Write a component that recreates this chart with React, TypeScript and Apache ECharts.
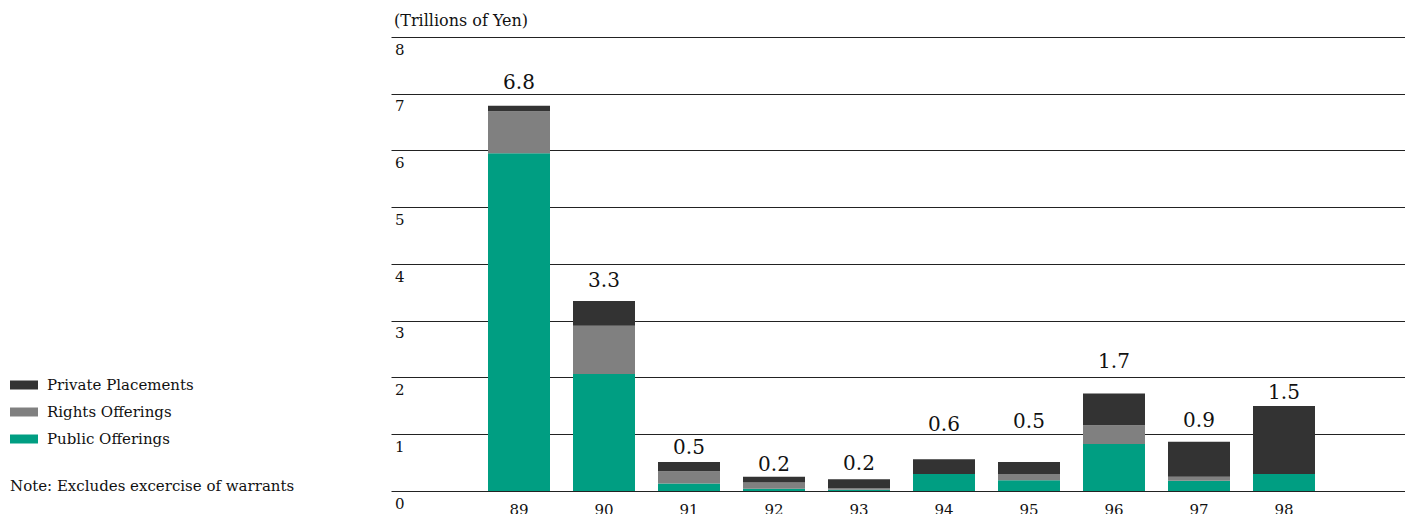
import React, { useEffect, useRef } from "react";
import * as echarts from "echarts";

const years = ["89", "90", "91", "92", "93", "94", "95", "96", "97", "98"];
const publicOfferings = [5.95, 2.06, 0.13, 0.04, 0.02, 0.3, 0.19, 0.83, 0.18, 0.3];
const rightsOfferings = [0.74, 0.85, 0.22, 0.11, 0.035, 0, 0.11, 0.33, 0.07, 0];
const privatePlacements = [0.1, 0.44, 0.16, 0.1, 0.15, 0.26, 0.21, 0.56, 0.62, 1.2];
const totals = ["6.8", "3.3", "0.5", "0.2", "0.2", "0.6", "0.5", "1.7", "0.9", "1.5"];

// pixel lift of each total label above its bar (layout only)
const labelLift = [24, 20.5, 15, 13, 16, 35.5, 41, 32, 21.5, 13.5];

const FONT = "'DejaVu Serif', serif";
const GREEN = "#009e82";
const GRAY = "#808080";
const DARK = "#333333";

const pad = <T,>(arr: T[]): (T | null)[] => [null, ...arr, null];

export default function App() {
  const ref = useRef<HTMLDivElement>(null);
  useEffect(() => {
    if (!ref.current) return;
    const chart = echarts.init(ref.current, null, { renderer: "svg" });
    const privateData = pad(privatePlacements).map((v, i) =>
      v === null
        ? null
        : {
            value: v,
            label: { offset: [0, -labelLift[i - 1]] },
          }
    );
    chart.setOption({
      animation: false,
      textStyle: { fontFamily: FONT },
      title: {
        text: "(Trillions of Yen)",
        left: 394,
        top: 12,
        padding: 0,
        textStyle: { fontFamily: FONT, fontSize: 16, fontWeight: "normal", color: "#111" },
      },
      legend: {
        orient: "vertical",
        left: 10,
        top: 376,
        padding: 0,
        itemWidth: 28,
        itemHeight: 9,
        itemGap: 9,
        icon: "rect",
        data: ["Private Placements", "Rights Offerings", "Public Offerings"],
        textStyle: { fontFamily: FONT, fontSize: 15, color: "#111", lineHeight: 18, padding: [0, 0, 0, 4] },
        selectedMode: false,
      },
      graphic: [
        {
          type: "text",
          left: 10,
          top: 478,
          style: { text: "Note: Excludes excercise of warrants", font: `15px ${FONT}`, fill: "#111" },
        },
      ],
      grid: {
        left: 391.5,
        width: 1020,
        top: 37,
        bottom: 23,
        containLabel: false,
        outerBoundsMode: "none",
      },
      xAxis: {
        type: "category",
        data: pad(years).map((y) => y ?? ""),
        axisLine: { show: false },
        axisTick: { show: false },
        axisLabel: { fontFamily: FONT, fontSize: 15, color: "#111", margin: 11, interval: 0 },
      },
      yAxis: {
        type: "value",
        min: 0,
        max: 8,
        interval: 1,
        axisLine: { show: false },
        axisTick: { show: false },
        splitLine: { show: true, lineStyle: { color: "#222", width: 1 } },
        axisLabel: {
          inside: true,
          margin: 3.5,
          fontFamily: FONT,
          fontSize: 15,
          color: "#111",
          verticalAlign: "top",
          padding: [5, 0, 0, 0],
        },
      },
      series: [
        {
          name: "Public Offerings",
          type: "bar",
          stack: "total",
          barWidth: 62,
          data: pad(publicOfferings),
          itemStyle: { color: GREEN },
          z: 3,
        },
        {
          name: "Rights Offerings",
          type: "bar",
          stack: "total",
          barWidth: 62,
          data: pad(rightsOfferings),
          itemStyle: { color: GRAY },
          z: 3,
        },
        {
          name: "Private Placements",
          type: "bar",
          stack: "total",
          barWidth: 62,
          data: privateData,
          itemStyle: { color: DARK },
          z: 3,
          label: {
            show: true,
            position: "top",
            distance: 0,
            verticalAlign: "middle",
            fontFamily: FONT,
            fontSize: 20,
            color: "#111",
            formatter: (p: any) => totals[p.dataIndex - 1] ?? "",
          },
        },
      ],
    });
    return () => chart.dispose();
  }, []);
  return (
    <div
      ref={ref}
      style={{ position: "fixed", left: 0, top: 0, width: 1405, height: 514, background: "#fff" }}
    />
  );
}
